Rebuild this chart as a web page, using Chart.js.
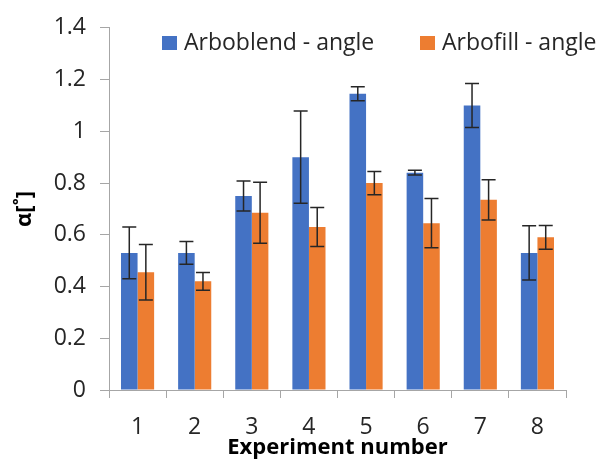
<!DOCTYPE html>
<html>
<head>
<meta charset="utf-8">
<script src="https://cdn.jsdelivr.net/npm/chart.js@4.4.1/dist/chart.umd.min.js"></script>
<style>
  body { margin: 0; background: #fff; }
  #wrap { position: relative; width: 600px; height: 462px; }
  .leg { position: absolute; font-family: "Open Sans", sans-serif; font-size: 23px; color: #262626; white-space: nowrap; line-height: 1; }
  .leg i { display: inline-block; width: 15px; height: 14px; margin-right: 7px; vertical-align: 0px; }
</style>
</head>
<body>
<div id="wrap">
  <canvas id="chart-bars" width="600" height="462"></canvas>
  <div class="leg" style="left:162px; top:30px;"><i style="background:#4472C4"></i>Arboblend - angle</div>
  <div class="leg" style="left:420px; top:30px;"><i style="background:#ED7D31"></i>Arbofill - angle</div>
</div>
<script>
const experiments = ["1", "2", "3", "4", "5", "6", "7", "8"];
const arboblend = [0.53, 0.53, 0.75, 0.90, 1.145, 0.84, 1.10, 0.53];
const arboblendErr = [0.10, 0.044, 0.058, 0.178, 0.027, 0.009, 0.085, 0.105];
const arbofill = [0.455, 0.42, 0.685, 0.63, 0.80, 0.645, 0.735, 0.59];
const arbofillErr = [0.107, 0.034, 0.118, 0.075, 0.045, 0.095, 0.078, 0.046];
const yMin = 0, yMax = 1.4, yStep = 0.2;

// error bars drawn on top of the bars, using the y scale
const errorBars = {
  id: "errorBars",
  afterDatasetsDraw(chart) {
    const ctx = chart.ctx;
    const y = chart.scales.y;
    chart.data.datasets.forEach((ds, i) => {
      const meta = chart.getDatasetMeta(i);
      meta.data.forEach((bar, j) => {
        const v = ds.data[j], e = ds.errors[j];
        const top = y.getPixelForValue(v + e);
        const bot = y.getPixelForValue(v - e);
        ctx.save();
        ctx.strokeStyle = "#262626";
        ctx.lineWidth = 1.5;
        ctx.beginPath();
        ctx.moveTo(bar.x, top); ctx.lineTo(bar.x, bot);
        ctx.moveTo(bar.x - 7, top); ctx.lineTo(bar.x + 7, top);
        ctx.moveTo(bar.x - 7, bot); ctx.lineTo(bar.x + 7, bot);
        ctx.stroke();
        ctx.restore();
      });
    });
  }
};

const ctx = document.getElementById("chart-bars").getContext("2d");
new Chart(ctx, {
  type: "bar",
  data: {
    labels: experiments,
    datasets: [
      { label: "Arboblend - angle", data: arboblend, errors: arboblendErr, backgroundColor: "#4472C4" },
      { label: "Arbofill - angle", data: arbofill, errors: arbofillErr, backgroundColor: "#ED7D31" }
    ]
  },
  options: {
    responsive: false,
    animation: false,
    categoryPercentage: 0.58,
    barPercentage: 1.0,
    layout: { padding: { top: 20, right: 34, left: 0, bottom: 0 } },
    plugins: { legend: { display: false }, tooltip: { enabled: false } },
    scales: {
      x: {
        afterFit: (s) => { s.height = 72; },
        grid: { drawOnChartArea: false, drawTicks: true, tickLength: 8, color: "#a6a6a6", offset: true },
        border: { color: "#a6a6a6" },
        ticks: { color: "#262626", padding: 16, font: { family: "Open Sans", size: 23 } },
        title: { display: true, text: "Experiment number", color: "#000", padding: { top: 0, bottom: 1 },
                 font: { family: "Open Sans", size: 22, weight: "bold" } }
      },
      y: {
        min: yMin, max: yMax,
        afterFit: (s) => { s.width = 109; },
        grid: { drawOnChartArea: false, drawTicks: true, tickLength: 9, color: "#a6a6a6" },
        border: { color: "#a6a6a6" },
        ticks: { stepSize: yStep, color: "#262626", padding: 14, font: { family: "Open Sans", size: 23 },
                 callback: (v) => String(+v.toFixed(1)) },
        title: { display: true, text: "α[˚]", color: "#000", padding: { top: 12, bottom: 6 },
                 font: { family: "Open Sans", size: 22, weight: "bold" } }
      }
    }
  },
  plugins: [errorBars]
});
</script>
</body>
</html>
